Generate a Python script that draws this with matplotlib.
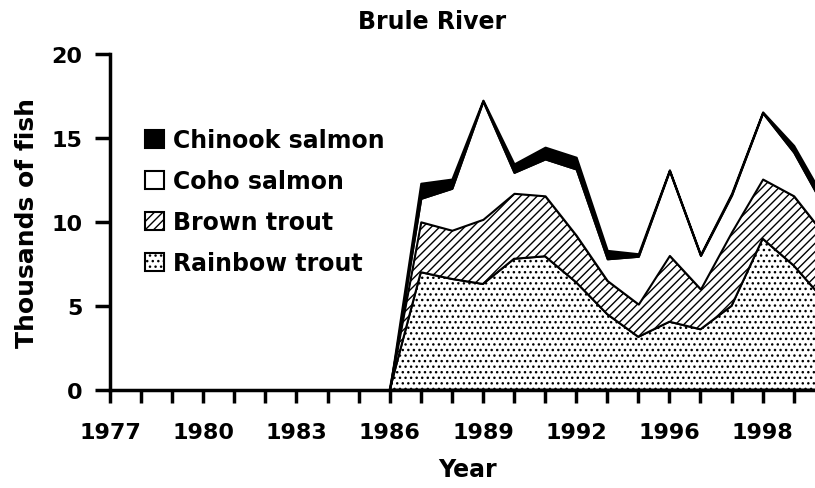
import numpy as np
import matplotlib
matplotlib.use("Agg")
import matplotlib.pyplot as plt
from matplotlib.patches import Patch

plt.rcParams["font.family"] = ["DejaVu Sans"]
plt.rcParams["font.weight"] = "bold"
plt.rcParams["hatch.linewidth"] = 1.0

# categories: 1977 .. 2000, no counts before 1986
years = list(range(1977, 2001))
tick_labels = ["1977", "1980", "1983", "1986", "1989", "1992", "1996", "1998"]

nan = np.nan
# thousands of fish, per species (stacked bottom to top)
rainbow = [nan] * 9 + [0, 7.0, 6.6, 6.3, 7.8, 7.95, 6.4, 4.5, 3.15, 4.05, 3.6, 5.0, 9.0, 7.4, 5.3]
brown = [nan] * 9 + [0, 3.0, 2.9, 3.85, 3.9, 3.6, 2.8, 2.0, 1.95, 3.95, 2.4, 4.4, 3.55, 4.15, 3.9]
coho = [nan] * 9 + [0, 1.4, 2.5, 7.05, 1.25, 2.2, 3.95, 1.3, 2.85, 5.05, 2.0, 2.2, 3.95, 2.6, 1.6]
chinook = [nan] * 9 + [0, 0.9, 0.55, 0.05, 0.5, 0.7, 0.7, 0.5, 0.15, 0.05, 0.05, 0.1, 0.05, 0.4, 0.5]

series = [
    ("Rainbow trout", rainbow, "white", "..."),
    ("Brown trout", brown, "white", "////"),
    ("Coho salmon", coho, "white", None),
    ("Chinook salmon", chinook, "black", None),
]

x = np.arange(len(years))

fig = plt.figure(figsize=(8.15, 4.89), dpi=100)
ax = fig.add_axes([110 / 815, 98.3 / 489, 714.8 / 815, 335.7 / 489])

base = np.zeros(len(years))
handles = []
for name, vals, color, hatch in series:
    top = base + np.array(vals, dtype=float)
    ax.fill_between(x, base, top, facecolor=color, edgecolor="black",
                    hatch=hatch, linewidth=1.5, zorder=2)
    handles.append(Patch(facecolor=color, edgecolor="black", hatch=hatch,
                         linewidth=1.5, label=name))
    base = np.where(np.isnan(top), base, top)

ax.set_xlim(0, len(years) - 1)
ax.set_ylim(0, 20)
ax.set_yticks([0, 5, 10, 15, 20])
ax.set_xticks(x)
labels = [""] * len(years)
for i, t in enumerate(tick_labels):
    labels[3 * i] = t
ax.set_xticklabels(labels)

for s in ["top", "right"]:
    ax.spines[s].set_visible(False)
for s in ["left", "bottom"]:
    ax.spines[s].set_linewidth(2.5)
    ax.spines[s].set_zorder(3)
ax.tick_params(axis="x", direction="out", length=9, width=2.5, pad=14, labelsize=16)
ax.tick_params(axis="y", direction="out", length=11, width=2.5, pad=9, labelsize=16)

ax.set_xlabel("Year", fontsize=17, fontweight="bold", labelpad=11)
ax.set_ylabel("Thousands of fish", fontsize=18, fontweight="bold", labelpad=9)
fig.text(432 / 815, 1 - 22 / 489, "Brule River", fontsize=17, fontweight="bold",
         ha="center", va="center")

ax.legend(handles=handles[::-1], loc="upper left", frameon=False,
          bbox_to_anchor=(136 / 815, 1 - 120 / 489), bbox_transform=fig.transFigure,
          fontsize=17, handlelength=0.8, handleheight=0.8, handletextpad=0.35,
          labelspacing=0.72, borderaxespad=0)

fig.savefig("out.png", dpi=100)
